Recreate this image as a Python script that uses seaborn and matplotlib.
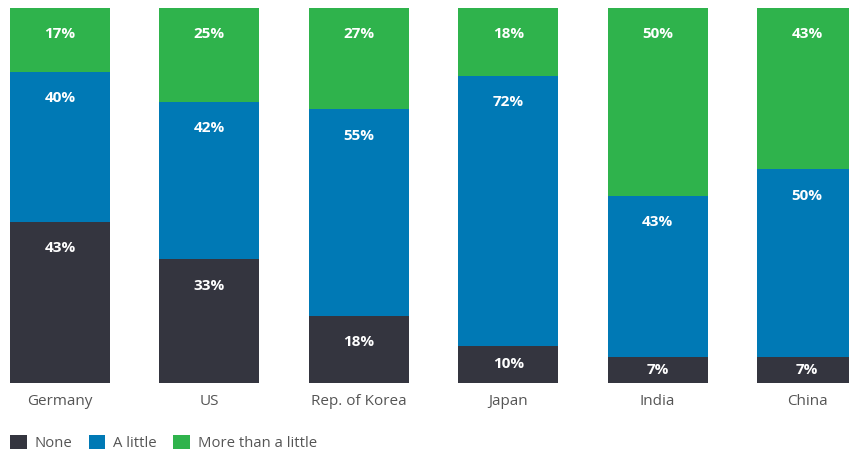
import matplotlib
matplotlib.use("Agg")
import matplotlib.pyplot as plt
from matplotlib.patches import Patch
import seaborn as sns
import pandas as pd
import numpy as np

sns.set_theme(style="white")
plt.rcParams["font.family"] = ["Open Sans", "DejaVu Sans"]

countries = ["Germany", "US", "Rep. of Korea", "Japan", "India", "China"]
none_pct = [43, 33, 18, 10, 7, 7]
little_pct = [40, 42, 55, 72, 43, 50]
more_pct = [17, 25, 27, 18, 50, 43]

series = ["None", "A little", "More than a little"]
colors = ["#34353f", "#0079b5", "#2fb34c"]

df = pd.DataFrame({"country": countries, "None": none_pct,
                   "A little": little_pct, "More than a little": more_pct})

fig = plt.figure(figsize=(8.49, 4.55), dpi=100)
ax = fig.add_axes([0.0, 72 / 455, 1.0, 375 / 455])

bottom = np.zeros(len(df))
for name, col in zip(series, colors):
    sns.barplot(data=df, x="country", y=name, bottom=bottom, color=col,
                width=0.669, saturation=1, linewidth=0, ax=ax)
    tops = bottom + df[name].values
    for i, (v, b, t) in enumerate(zip(df[name].values, bottom, tops)):
        # label sits near the top of the segment, centred if the segment is short
        y = max(t - 7.0, (b + t) / 2)
        ax.text(i, y, f"{v}%", ha="center", va="center", color="white",
                fontsize=11, fontweight="bold")
    bottom = tops

ax.set_xlim(-0.4016, 5.281)
ax.set_ylim(0, 100)
ax.set_xlabel("")
ax.set_ylabel("")
ax.set_yticks([])
ax.tick_params(axis="x", length=0, pad=8, labelsize=11, labelcolor="#555555")
sns.despine(ax=ax, left=True, bottom=True)

handles = [Patch(facecolor=c, edgecolor="none") for c in colors]
fig.legend(handles, series, loc="center left", bbox_to_anchor=(0.012, 12 / 455),
           ncol=3, frameon=False, fontsize=10.7, labelcolor="#555555",
           handlelength=1.1, handleheight=1.1, handletextpad=0.55,
           columnspacing=1.1, borderaxespad=0, borderpad=0.0)

fig.savefig("out.png", dpi=100)
